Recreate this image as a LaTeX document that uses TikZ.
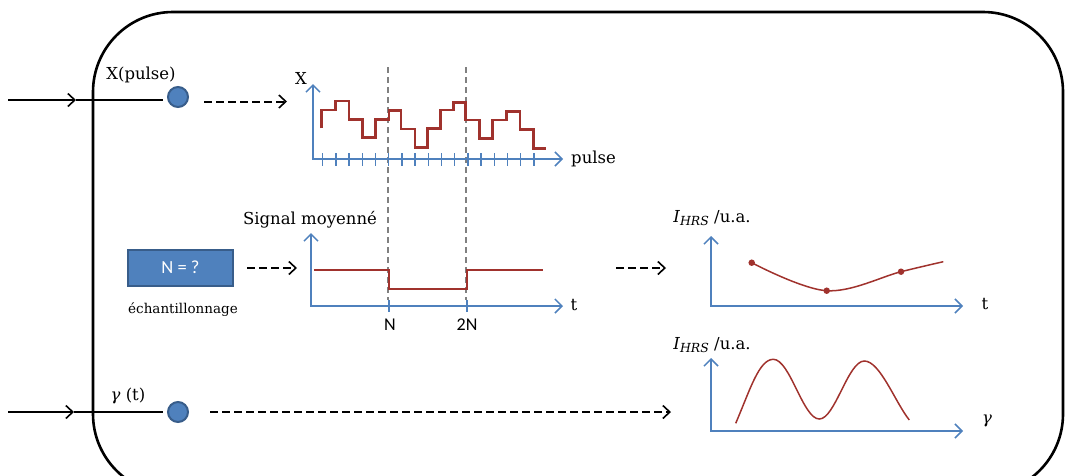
\documentclass[tikz,border=0pt]{standalone}
\usepackage{fontspec}
\setmainfont{DejaVu Serif}
\newfontfamily\calib{Carlito}
\usetikzlibrary{arrows.meta}
\definecolor{axblue}{RGB}{79,129,189}
\definecolor{dkblue}{RGB}{56,93,138}
\definecolor{sigred}{RGB}{160,50,45}
\definecolor{guide}{RGB}{128,128,128}
\newcommand{\ihrs}{\textit{I}\raisebox{-3pt}{\fontsize{12.5}{14}\selectfont\textit{HRS}}}
\tikzset{
  barb/.tip={Straight Barb[length=7pt,width=13pt,line width=1.6pt]},
  inarrow/.style={line width=2pt,-barb},
  plainline/.style={line width=2pt},
  dasharrow/.style={line width=2pt,dash pattern=on 8pt off 4pt,-barb},
  axis/.style={draw=axblue,line width=1.5pt,
    {Straight Barb[length=7pt,width=14pt,line width=1.5pt]}-{Straight Barb[length=7pt,width=14pt,line width=1.5pt]}},
  tickmark/.style={draw=axblue,line width=1.5pt},
  sig/.style={draw=sigred,line width=2.5pt},
  curve/.style={draw=sigred,line width=1.5pt},
  guideline/.style={draw=guide,line width=1.2pt,dash pattern=on 6pt off 4pt},
  dotnode/.style={circle,fill=axblue,draw=dkblue,line width=2pt,minimum size=20pt,inner sep=0pt},
  lbl/.style={font=\fontsize{16.5}{20}\selectfont,inner sep=0pt},
  lblsmall/.style={font=\fontsize{13.5}{16}\selectfont,inner sep=0pt},
  sanslbl/.style={font=\calib\fontsize{18}{21}\selectfont,inner sep=0pt},
  pt/.style={circle,fill=sigred,inner sep=0pt,minimum size=6.5pt}
}
\begin{document}
\begin{tikzpicture}[x=1pt,y=-1pt]
\useasboundingbox (0,0) rectangle (1067,475);
\begin{scope}
\clip (0,0) rectangle (1067,475);
\draw[line width=2.6pt,rounded corners=80pt] (93,12) rectangle (1063,494);
\end{scope}

% ---- top input
\coordinate (in1) at (8,100);
\coordinate (m1) at (76,100);
\node[dotnode] (c1) at (178,97) {};
\coordinate (e1) at (163,100);
\draw[inarrow] (in1) -- (m1);
\draw[plainline] (m1) -- (e1);
\node[lbl] (lx) at (141,75) {X(pulse)};
\coordinate (d1s) at (204,101.5);
\coordinate (d1e) at (287,101.5);
\draw[dasharrow] (d1s) -- (d1e);

% ---- bottom input
\coordinate (in2) at (8,412);
\coordinate (m2) at (74,412);
\node[dotnode] (c2) at (178,412) {};
\coordinate (e2) at (163,412);
\draw[inarrow] (in2) -- (m2);
\draw[plainline] (m2) -- (e2);
\node[lbl] (lg) at (128,396) {\textit{γ} (t)};
\coordinate (d3s) at (210,412);
\coordinate (d3e) at (671,412);
\draw[dasharrow] (d3s) -- (d3e);

% ---- guide lines
\coordinate (g1t) at (388,67);
\coordinate (g1b) at (388,300);
\coordinate (g2t) at (466,67);
\coordinate (g2b) at (466,300);
\draw[guideline] (g1t) -- (g1b);
\draw[guideline] (g2t) -- (g2b);

% ---- top graph
\coordinate (o1) at (313,159);
\coordinate (y1) at (313,84);
\coordinate (x1) at (563,159);
\draw[axis] (y1) -- (o1) -- (x1);
\foreach \k in {0,...,16} {
  \pgfmathsetmacro{\tx}{322.7+13.2*\k}
  \draw[tickmark] (\tx,153) -- (\tx,166);
}
\node[lbl] (lX) at (301,78) {X};
\node[lbl,anchor=west] (lpulse) at (571,159) {pulse};
\draw[sig] (321.7,128.3) -- (321.7,110) -- (335.7,110) -- (335.7,101) -- (349,101)
  -- (349,119.3) -- (362.3,119.3) -- (362.3,137.7) -- (375.7,137.7) -- (375.7,119.3)
  -- (389,119.3) -- (389,110.7) -- (401,110.7) -- (401,129) -- (415,129) -- (415,147.7)
  -- (427.7,147.7) -- (427.7,128.3) -- (440.7,128.3) -- (440.7,110) -- (453.3,110)
  -- (453.3,102.3) -- (465.7,102.3) -- (465.7,120) -- (479.3,120) -- (479.3,138.3)
  -- (492.7,138.3) -- (492.7,120) -- (506.7,120) -- (506.7,111.7) -- (520,111.7)
  -- (520,129.3) -- (533.3,129.3) -- (533.3,148.3) -- (545.7,148.3);

% ---- middle left
\node[draw=dkblue,fill=axblue,line width=2pt,minimum width=105pt,minimum height=36pt,
  inner sep=0pt,text=white,font=\calib\fontsize{18.5}{21}\selectfont] (box) at (180.5,267.5) {N = ?};
\node[lblsmall] (lech) at (183,310) {échantillonnage};
\coordinate (d2s) at (247,268);
\coordinate (d2e) at (297,268);
\draw[dasharrow] (d2s) -- (d2e);

% ---- middle graph
\coordinate (o2) at (311,306);
\coordinate (y2) at (311,233);
\coordinate (x2) at (563,306);
\draw[axis] (y2) -- (o2) -- (x2);
\draw[tickmark] (389,300) -- (389,312);
\draw[tickmark] (467,300) -- (467,312);
\node[sanslbl] (lN) at (390,325) {N};
\node[sanslbl] (l2N) at (467,325) {2N};
\node[lbl] (lsig) at (310,220) {Signal moyenné};
\node[lbl] (lt1) at (574,305) {t};
\draw[sig] (314,270) -- (389,270) -- (389,289) -- (467,289) -- (467,270) -- (543,270);
\coordinate (d4s) at (616,268);
\coordinate (d4e) at (666,268);
\draw[dasharrow] (d4s) -- (d4e);

% ---- right top graph
\coordinate (o3) at (711,306);
\coordinate (y3) at (711,236);
\coordinate (x3) at (963,306);
\draw[axis] (y3) -- (o3) -- (x3);
\node[lbl] (lI1) at (712,218) {\ihrs\ /u.a.};
\node[lbl] (lt2) at (985,304) {t};
\draw[curve] plot[smooth,tension=0.6] coordinates {(751.7,262.7) (826.7,290.7) (901,271.7) (943.3,261.7)};
\node[pt] (p1) at (751.7,262.7) {};
\node[pt] (p2) at (826.7,290.7) {};
\node[pt] (p3) at (901,271.7) {};

% ---- right bottom graph
\coordinate (o4) at (711,431);
\coordinate (y4) at (711,358);
\coordinate (x4) at (963,431);
\draw[axis] (y4) -- (o4) -- (x4);
\node[lbl] (lI2) at (712,345) {\ihrs\ /u.a.};
\node[lbl] (lgam) at (987,421) {\textit{γ}};
\draw[curve] (735.7,423.3) .. controls (750,390) and (759,359.3) .. (773.3,359.3)
  .. controls (790,359.3) and (803,419) .. (819.3,419)
  .. controls (835,419) and (848,361) .. (864.3,361)
  .. controls (880,361) and (895,402) .. (909.3,420);
\end{tikzpicture}
\end{document}
